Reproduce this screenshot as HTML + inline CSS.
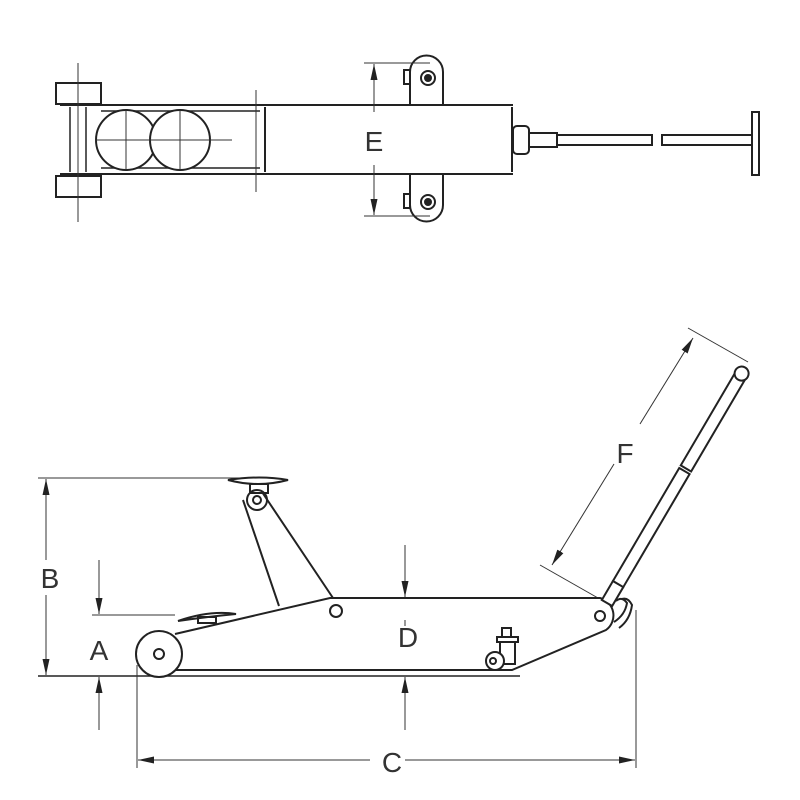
<!DOCTYPE html>
<html><head><meta charset="utf-8"><style>
html,body{margin:0;padding:0;background:#fff;}
svg{display:block;}
text{font-family:"Liberation Sans",sans-serif;fill:#333;}
</style></head><body>
<svg width="800" height="800" viewBox="0 0 800 800" xmlns="http://www.w3.org/2000/svg">
<defs>
<marker id="ar" viewBox="0 0 16 8" refX="16" refY="4" markerWidth="16" markerHeight="8" orient="auto-start-reverse" markerUnits="userSpaceOnUse">
<path d="M0,0.5 L16,4 L0,7.5 z" fill="#222"/></marker>
</defs>
<g fill="none" stroke="#222" stroke-width="2">
<!-- TOP VIEW -->
<rect x="56" y="83" width="45" height="21" fill="#fff"/>
<rect x="56" y="176" width="45" height="21" fill="#fff"/>
<line x1="60" y1="105" x2="513" y2="105"/>
<line x1="60" y1="174" x2="513" y2="174"/>
<line x1="70" y1="107" x2="70" y2="172" stroke-width="1.5"/>
<line x1="86" y1="107" x2="86" y2="172" stroke-width="1.5"/>
<line x1="101" y1="111" x2="260" y2="111" stroke-width="1.5"/>
<line x1="101" y1="168" x2="260" y2="168" stroke-width="1.5"/>
<circle cx="126" cy="140" r="30" fill="#fff"/>
<circle cx="180" cy="140" r="30" fill="#fff"/>
<line x1="265" y1="107" x2="265" y2="172"/>
<line x1="512" y1="107" x2="512" y2="172"/>
<rect x="513" y="126" width="16" height="28" rx="4"/>
<rect x="529" y="133" width="28" height="14"/>
<rect x="557" y="135" width="95" height="10"/>
<rect x="662" y="135" width="90" height="10"/>
<rect x="752" y="112" width="7" height="63"/>
<path d="M410,104 V72 a16,16 0 0 1 33,0 V104"/>
<circle cx="428" cy="78" r="7"/><circle cx="428" cy="78" r="3" fill="#222"/>
<rect x="404" y="70" width="6" height="14"/>
<path d="M410,175 V205 a16,16 0 0 0 33,0 V175"/>
<circle cx="428" cy="202" r="7"/><circle cx="428" cy="202" r="3" fill="#222"/>
<rect x="404" y="194" width="6" height="14"/>
</g>
<g fill="none" stroke="#333" stroke-width="1">
<line x1="78" y1="63" x2="78" y2="222"/>
<line x1="95" y1="140" x2="232" y2="140"/>
<line x1="126" y1="110" x2="126" y2="170"/>
<line x1="180" y1="110" x2="180" y2="170"/>
<line x1="256" y1="90" x2="256" y2="192"/>
<line x1="364" y1="63" x2="430" y2="63"/>
<line x1="364" y1="216" x2="430" y2="216"/>
<line x1="374" y1="112" x2="374" y2="64" marker-end="url(#ar)"/>
<line x1="374" y1="165" x2="374" y2="215" marker-end="url(#ar)"/>
</g>
<text x="374" y="151" font-size="28" text-anchor="middle">E</text>

<!-- SIDE VIEW dims -->
<g fill="none" stroke="#333" stroke-width="1">
<line x1="38" y1="478" x2="240" y2="478"/>
<line x1="46" y1="560" x2="46" y2="479" marker-end="url(#ar)"/>
<line x1="46" y1="595" x2="46" y2="675" marker-end="url(#ar)"/>
<line x1="38" y1="676" x2="520" y2="676" stroke-width="1.5" stroke="#222"/>
<line x1="92" y1="615" x2="175" y2="615"/>
<line x1="99" y1="560" x2="99" y2="614" marker-end="url(#ar)"/>
<line x1="99" y1="730" x2="99" y2="677" marker-end="url(#ar)"/>
<line x1="405" y1="545" x2="405" y2="597" marker-end="url(#ar)"/>
<line x1="405" y1="730" x2="405" y2="677" marker-end="url(#ar)"/>
<line x1="405" y1="620" x2="405" y2="626"/>
<line x1="137" y1="665" x2="137" y2="768"/>
<line x1="636" y1="610" x2="636" y2="768"/>
<line x1="370" y1="760" x2="138" y2="760" marker-end="url(#ar)"/>
<line x1="405" y1="760" x2="635" y2="760" marker-end="url(#ar)"/>
<line x1="540" y1="565" x2="598" y2="598"/>
<line x1="688" y1="328" x2="748" y2="362"/>
<line x1="614" y1="464" x2="552" y2="565" marker-end="url(#ar)"/>
<line x1="640" y1="424" x2="693" y2="338" marker-end="url(#ar)"/>
</g>
<text x="50" y="588" font-size="28" text-anchor="middle">B</text>
<text x="99" y="660" font-size="28" text-anchor="middle">A</text>
<text x="408" y="647" font-size="28" text-anchor="middle">D</text>
<text x="392" y="772" font-size="28" text-anchor="middle">C</text>
<text x="625" y="463" font-size="28" text-anchor="middle">F</text>

<!-- SIDE VIEW jack -->
<g fill="none" stroke="#222" stroke-width="2">
<path d="M243,500 L279,606 M262,492 L333,598" fill="#fff"/>
<path d="M228,480 Q258,488 288,480 Q260,475 228,480z"/>
<rect x="250" y="484" width="18" height="9"/>
<circle cx="257" cy="500" r="10"/>
<circle cx="257" cy="500" r="4"/>
<path d="M175,634 L330,598 L600,598 A18,18 0 0 1 606,630 L512,670 L175,670"/>
<path d="M178,621 Q205,617 236,614 Q210,610 178,621z"/>
<rect x="198" y="617" width="18" height="6"/>
<circle cx="159" cy="654" r="23" fill="#fff"/>
<circle cx="159" cy="654" r="5"/>
<circle cx="336" cy="611" r="6"/>
<circle cx="600" cy="616" r="5"/>
<rect x="502" y="628" width="9" height="9"/>
<rect x="497" y="637" width="21" height="5"/>
<path d="M500,642 h15 v22 h-15z"/>
<circle cx="495" cy="661" r="9" fill="#fff"/>
<circle cx="493" cy="661" r="3"/>
<path d="M614,622 Q625,615 627,603 Q622,596 616,601 M619,628 Q630,620 632,605 Q628,597 622,599"/>
<g transform="translate(607,603) rotate(-59.6)">
<rect x="0" y="-6" width="22" height="12" fill="#fff"/>
<rect x="22" y="-6" width="131" height="12" fill="#fff"/>
<rect x="156" y="-6" width="108" height="12" fill="#fff"/>
<circle cx="266" cy="0" r="7" fill="#fff"/>
</g>
</g>
</svg>
</body></html>
